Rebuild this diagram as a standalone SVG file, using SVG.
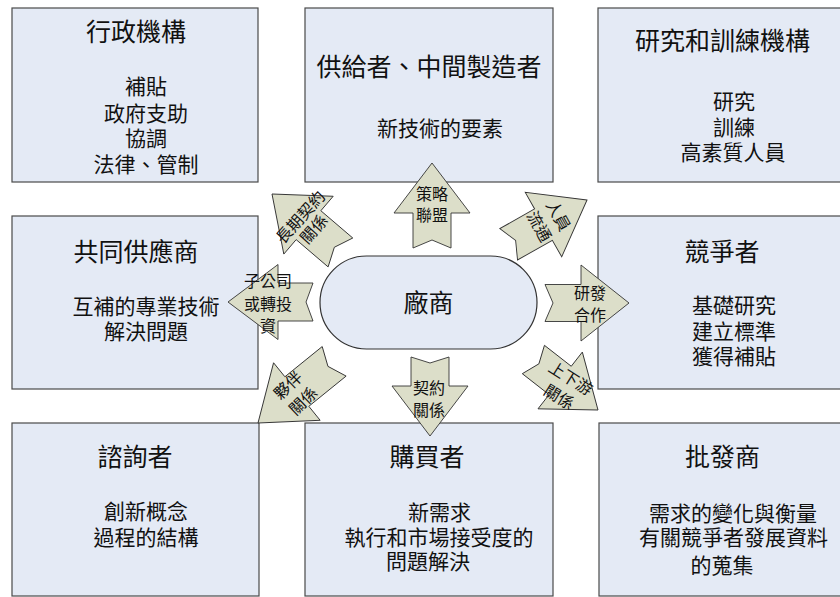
<svg xmlns="http://www.w3.org/2000/svg" width="840" height="597" viewBox="0 0 840 597">
<style>
  .box { fill: #E4EAF5; stroke: #4A4A4A; stroke-width: 1.2; }
  .hub { fill: #E4EAF5; stroke: #333333; stroke-width: 1.2; }
  .arr { fill: #DCDEC9; stroke: #333333; stroke-width: 0.9; stroke-linejoin: miter; }
  text { font-family: "Liberation Sans", "Noto Sans CJK TC", "Noto Sans CJK SC", sans-serif; fill: #111; text-anchor: middle; }
  .t { font-size: 25px; }
  .b { font-size: 21px; }
  .a { font-size: 16px; }
</style>
<rect width="840" height="597" fill="#FFFFFF"/>

<g id="node-admin">
  <rect class="box" x="12" y="8" width="246" height="174"/>
  <text class="t" x="136" y="40.5">行政機構</text>
  <text class="b" x="146" y="94">補貼</text>
  <text class="b" x="146" y="120.5">政府支助</text>
  <text class="b" x="146" y="146">協調</text>
  <text class="b" x="146" y="171.5">法律、管制</text>
</g>
<g id="node-supplier">
  <rect class="box" x="305" y="8" width="248" height="174"/>
  <text class="t" x="429" y="75.5">供給者、中間製造者</text>
  <text class="b" x="440" y="136">新技術的要素</text>
</g>
<g id="node-research">
  <rect class="box" x="598" y="8" width="250" height="174"/>
  <text class="t" x="722.5" y="50">研究和訓練機構</text>
  <text class="b" x="734" y="109">研究</text>
  <text class="b" x="734" y="134.5">訓練</text>
  <text class="b" x="733" y="160">高素質人員</text>
</g>
<g id="node-cosupplier">
  <rect class="box" x="12" y="216" width="246" height="173"/>
  <text class="t" x="136" y="260.5">共同供應商</text>
  <text class="b" x="146" y="313.5">互補的專業技術</text>
  <text class="b" x="146" y="339">解決問題</text>
</g>
<g id="node-firm">
  <rect class="hub" x="320" y="256" width="217" height="93" rx="46.5" ry="46.5"/>
  <text class="t" x="428.5" y="312">廠商</text>
</g>
<g id="node-competitor">
  <rect class="box" x="598" y="216" width="250" height="173"/>
  <text class="t" x="722" y="260.5">競爭者</text>
  <text class="b" x="734" y="313">基礎研究</text>
  <text class="b" x="734" y="338.5">建立標準</text>
  <text class="b" x="734" y="364">獲得補貼</text>
</g>
<g id="node-consultant">
  <rect class="box" x="12" y="423" width="247" height="173"/>
  <text class="t" x="135" y="465.5">諮詢者</text>
  <text class="b" x="146" y="519">創新概念</text>
  <text class="b" x="146" y="545">過程的結構</text>
</g>
<g id="node-buyer">
  <rect class="box" x="305" y="423" width="248" height="173"/>
  <text class="t" x="427" y="465.5">購買者</text>
  <text class="b" x="439.5" y="519.5">新需求</text>
  <text class="b" x="439" y="545">執行和市場接受度的</text>
  <text class="b" x="428" y="569">問題解決</text>
</g>
<g id="node-wholesaler">
  <rect class="box" x="599" y="423" width="250" height="173"/>
  <text class="t" x="722.5" y="465.5">批發商</text>
  <text class="b" x="733" y="520.5">需求的變化與衡量</text>
  <text class="b" x="733.5" y="545">有關競爭者發展資料</text>
  <text class="b" x="722" y="573">的蒐集</text>
</g>

<g id="connectors">
  <!-- up: 策略聯盟 -->
  <polygon class="arr" transform="translate(432,163) rotate(-90)" points="0,0 -50,-38 -50,-19 -85,-19 -77,0 -85,19 -50,19 -50,38"/>
  <!-- down: 契約關係 -->
  <polygon class="arr" transform="translate(430,436) rotate(90)" points="0,0 -50,-38 -50,-19 -79,-19 -73,0 -79,19 -50,19 -50,38"/>
  <!-- right: 研發合作 -->
  <polygon class="arr" transform="translate(629,303)" points="0,0 -48,-38 -48,-18.5 -84,-18.5 -76,0 -84,18.5 -48,18.5 -48,38"/>
  <!-- left: 子公司或轉投資 -->
  <polygon class="arr" transform="translate(228,302) rotate(180)" points="0,0 -50,-37.5 -50,-19 -85,-19 -78,0 -85,19 -50,19 -50,37.5"/>
  <!-- upper-left: 長期契約關係 -->
  <polygon class="arr" transform="translate(272,194) rotate(-139.5)" points="0,0 -48,-38 -48,-19 -90,-19 -82,0 -90,19 -48,19 -48,38"/>
  <!-- upper-right: 人員流通 -->
  <polygon class="arr" transform="translate(587,200) rotate(-29.5)" points="0,0 -50,-37 -50,-18 -90,-18 -82,0 -90,18 -50,18 -50,37"/>
  <!-- lower-right: 上下游關係 -->
  <polygon class="arr" transform="translate(598,410) rotate(38)" points="0,0 -48,-36 -48,-18 -82,-18 -75,0 -82,18 -48,18 -48,36"/>
  <!-- lower-left: 夥伴關係 -->
  <polygon class="arr" transform="translate(258,423) rotate(141)" points="0,0 -50,-37 -50,-19 -98,-19 -90,0 -98,19 -50,19 -50,37"/>

  <text class="a" x="432" y="199.5">策略</text>
  <text class="a" x="432" y="220.5">聯盟</text>
  <text class="a" x="429" y="394">契約</text>
  <text class="a" x="429" y="415.5">關係</text>
  <text class="a" x="590" y="298.5">研發</text>
  <text class="a" x="590" y="320.5">合作</text>
  <text class="a" x="268" y="286.5">子公司</text>
  <text class="a" x="268" y="309.5">或轉投</text>
  <text class="a" x="268" y="331.5">資</text>
  <g transform="translate(307,223) rotate(-48)">
    <text class="a" x="0" y="-3">長期契約</text>
    <text class="a" x="0" y="15">關係</text>
  </g>
  <g transform="translate(549,221) rotate(61)">
    <text class="a" x="0" y="-5">人員</text>
    <text class="a" x="0" y="17">流通</text>
  </g>
  <g transform="translate(565,387.5) rotate(32)">
    <text class="a" x="0" y="-5">上下游</text>
    <text class="a" x="0" y="17">關係</text>
  </g>
  <g transform="translate(295.5,393) rotate(-44)">
    <text class="a" x="0" y="-5">夥伴</text>
    <text class="a" x="0" y="17">關係</text>
  </g>
</g>
</svg>
